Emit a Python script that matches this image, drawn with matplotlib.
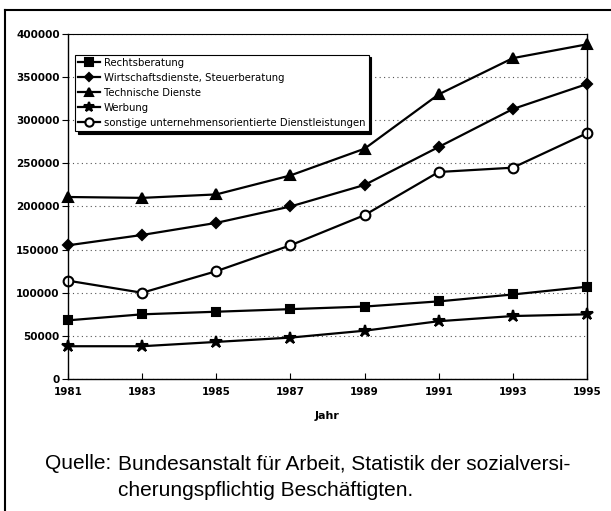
import matplotlib.pyplot as plt
from matplotlib.lines import Line2D

jahre = [1981, 1983, 1985, 1987, 1989, 1991, 1993, 1995]
rechtsberatung = [68000, 75000, 78000, 81000, 84000, 90000, 98000, 107000]
wirtschaft = [155000, 167000, 181000, 200000, 225000, 269000, 313000, 342000]
technisch = [211000, 210000, 214000, 236000, 267000, 330000, 372000, 388000]
werbung = [38000, 38000, 43000, 48000, 56000, 67000, 73000, 75000]
sonstige = [114000, 100000, 125000, 155000, 190000, 240000, 245000, 285000]

labels = ['Rechtsberatung', 'Wirtschaftsdienste, Steuerberatung',
          'Technische Dienste', 'Werbung',
          'sonstige unternehmensorientierte Dienstleistungen']
yticks = [0, 50000, 100000, 150000, 200000, 250000, 300000, 350000, 400000]

fig = plt.figure(figsize=(6.11, 5.11), dpi=100)
ax = fig.add_axes([0.1113, 0.2583, 0.8494, 0.6752])

series = [rechtsberatung, wirtschaft, technisch, werbung, sonstige]
markers = ['s', 'D', '^', '*', 'o']
sizes = [6, 5, 7, 9, 7]
for vals, m, s, lab in zip(series, markers, sizes, labels):
    face = 'white' if m == 'o' else 'black'
    ax.plot(jahre, vals, color='black', lw=1.6, marker=m, ms=s,
            mfc=face, mec='black', mew=1.5, label=lab, clip_on=False)

ax.set_xlim(1981, 1995)
ax.set_ylim(0, 400000)
ax.set_xticks(jahre)
ax.set_yticks(yticks)
ax.set_xticklabels([str(j) for j in jahre], fontweight='bold', fontsize=7.5)
ax.set_yticklabels([str(v) for v in yticks], fontweight='bold', fontsize=7.5)
ax.tick_params(axis='x', direction='in', length=4, pad=6)
ax.tick_params(axis='y', direction='out', length=4, pad=2)
ax.yaxis.grid(True, linestyle=(0, (1, 3)), color='#555555', lw=0.8)
ax.spines['top'].set_linestyle((0, (4, 1)))
ax.spines['top'].set_linewidth(0.8)
for sp in ['left', 'right', 'bottom']:
    ax.spines[sp].set_linewidth(1.0)
ax.set_xlabel('Jahr', fontweight='bold', fontsize=8, labelpad=10)

leg = ax.legend(loc='upper left', bbox_to_anchor=(0.013, 0.94), fontsize=7.3,
                frameon=True, fancybox=False, edgecolor='black', framealpha=1,
                shadow={'color': 'black', 'alpha': 1},
                handlelength=2.2, handletextpad=0.4, labelspacing=0.5,
                borderpad=0.3, borderaxespad=0, markerscale=0.85)
leg.get_frame().set_linewidth(0.8)

# outer frame lines
fig.add_artist(Line2D([0.008, 1.0], [0.980, 0.980], color='black', lw=1.5))
fig.add_artist(Line2D([0.008, 0.008], [0.0, 0.980], color='black', lw=1.5))

fig.text(0.073, 0.082, 'Quelle:', fontsize=15, family='Liberation Sans',
         va='baseline')
fig.text(0.193, 0.082, 'Bundesanstalt für Arbeit, Statistik der sozialversi-',
         fontsize=15, family='Liberation Sans', va='baseline')
fig.text(0.193, 0.029, 'cherungspflichtig Beschäftigten.',
         fontsize=15, family='Liberation Sans', va='baseline')

fig.savefig('out.png', dpi=100)
